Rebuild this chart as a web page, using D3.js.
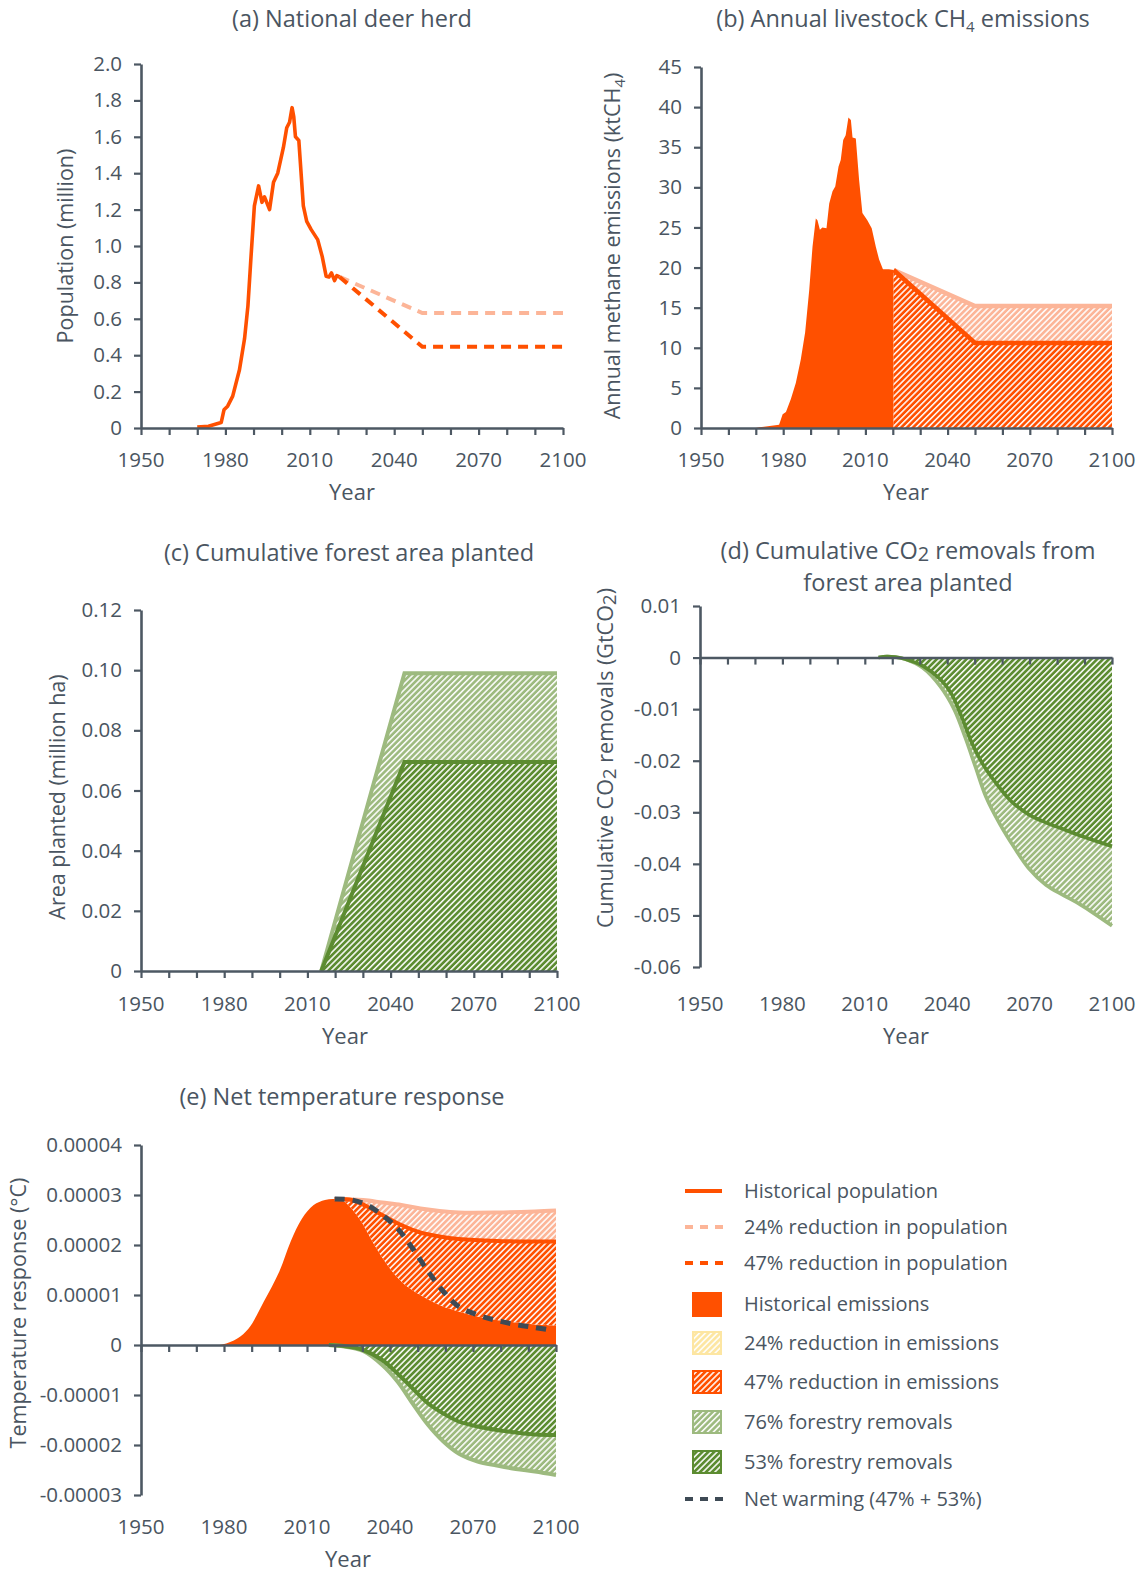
<!DOCTYPE html>
<html><head><meta charset="utf-8">
<script src="https://cdn.jsdelivr.net/npm/d3@7"></script>
<style>
body{margin:0;background:#fff;}
svg text{font-family:"Open Sans","Noto Sans",sans-serif;fill:#4a5561;}
</style></head><body>
<svg id="c" width="1144" height="1573"></svg>
<script>
// ---------------- DATA ----------------
const yearTicks = [1950,1960,1970,1980,1990,2000,2010,2020,2030,2040,2050,2060,2070,2080,2090,2100];
const yearLabels = [1950,1980,2010,2040,2070,2100];

// (a) National deer herd (million)
const deerYears = [1970,1974,1978.5,1979.5,1980.8,1982.6,1985,1986.8,1988,1989.1,1990.3,1991.8,1993,1993.9,1995.7,1997.1,1998.6,2000.6,2001.8,2002.8,2003.7,2004.3,2004.9,2006.1,2006.9,2007.7,2008.9,2010.5,2012.8,2014.4,2015.8,2016.8,2017.7,2018.8,2019.6,2020.6];
const deerPop   = [0.005,0.01,0.03,0.10,0.12,0.175,0.32,0.49,0.67,0.94,1.22,1.33,1.24,1.27,1.20,1.35,1.40,1.54,1.65,1.68,1.76,1.71,1.60,1.58,1.40,1.22,1.135,1.09,1.035,0.943,0.834,0.83,0.852,0.81,0.837,0.83];
const deerScenYears = [2020.6,2050,2100];
const deer24 = [0.83,0.632,0.632];
const deer47 = [0.83,0.446,0.446];
const popTicks = [0,0.2,0.4,0.6,0.8,1.0,1.2,1.4,1.6,1.8,2.0];
const popTickLabels = ["0","0.2","0.4","0.6","0.8","1.0","1.2","1.4","1.6","1.8","2.0"];

// (b) Annual livestock CH4 emissions (ktCH4)
const ch4Years = [1950,1970,1971.3,1978.5,1979.8,1981,1982.8,1984.6,1986.4,1988,1989.5,1990.7,1991.9,1992.5,1993.4,1994.3,1995.8,1996.8,1998,1999,2000.2,2001,2001.9,2002.8,2003.8,2004.7,2005.3,2006.5,2007.7,2008.9,2010.7,2012.3,2013.8,2015,2016.4,2018.6,2020.3];
const ch4Hist  = [0,0,0.1,0.4,1.7,2.0,3.6,5.6,8.5,11.9,17.2,22.6,26.1,25.9,24.7,25.0,24.9,28.0,29.5,30.1,32.6,33.4,35.9,36.5,38.7,38.4,36.2,36.1,30.9,26.8,25.9,24.9,22.6,21.0,19.8,19.8,19.7];
const ch4ScenYears = [2020.3,2050,2100];
const ch4_24 = [19.7,15.2,15.2];
const ch4_47 = [19.7,10.6,10.6];
const ch4Ticks = [0,5,10,15,20,25,30,35,40,45];
const ch4TickLabels = ["0","5","10","15","20","25","30","35","40","45"];

// (c) Cumulative forest area planted (million ha)
const forestYears = [2015,2045,2100];
const forest76 = [0,0.099,0.099];
const forest53 = [0,0.0695,0.0695];
const areaTicks = [0,0.02,0.04,0.06,0.08,0.10,0.12];
const areaTickLabels = ["0","0.02","0.04","0.06","0.08","0.10","0.12"];

// (d) Cumulative CO2 removals (GtCO2)
const co2Years53 = [2015,2018,2021,2024.7,2031.1,2037.5,2041.4,2045.2,2049.1,2052.9,2058,2063.2,2069.6,2076,2082.4,2088.8,2100];
const co2_53     = [0,0.0002,0.0001,-0.0003,-0.0016,-0.0042,-0.0069,-0.0114,-0.0167,-0.0206,-0.0245,-0.0278,-0.0304,-0.032,-0.0333,-0.0346,-0.0366];
const co2Years76 = [2015,2018,2021,2024.7,2031.1,2037.5,2042.6,2046.5,2050.3,2054.2,2059.3,2064.5,2069.6,2076,2082.4,2088.8,2100];
const co2_76     = [0,0.0002,0.0001,-0.0003,-0.002,-0.0056,-0.0101,-0.0154,-0.0212,-0.0271,-0.0324,-0.0369,-0.0408,-0.0441,-0.0461,-0.048,-0.052];
const co2Ticks = [0.01,0,-0.01,-0.02,-0.03,-0.04,-0.05,-0.06];
const co2TickLabels = ["0.01","0","-0.01","-0.02","-0.03","-0.04","-0.05","-0.06"];

// (e) Net temperature response (°C)
const tempHistYears = [1969.6,1979.3,1984.8,1988.9,1994.4,2000,2004.1,2008.2,2012.4,2016.5,2020,2023.4,2028.9,2034.4,2040,2045.5,2051,2057.9,2064.8,2071.7,2078.6,2085.5,2092.4,2100];
const tempHist = [0,0.01e-5,0.13e-5,0.33e-5,0.87e-5,1.47e-5,2.07e-5,2.53e-5,2.8e-5,2.9e-5,2.92e-5,2.87e-5,2.53e-5,2.0e-5,1.53e-5,1.2e-5,1.0e-5,0.8e-5,0.67e-5,0.57e-5,0.5e-5,0.45e-5,0.41e-5,0.39e-5];
const temp47Years = [2020,2026.2,2031.7,2037.2,2044.1,2051,2057.9,2064.8,2078.6,2092.4,2100];
const temp47 = [2.92e-5,2.9e-5,2.77e-5,2.6e-5,2.4e-5,2.25e-5,2.17e-5,2.12e-5,2.08e-5,2.07e-5,2.07e-5];
const temp24Years = [2020,2030.3,2037.2,2044.1,2051,2057.9,2064.8,2078.6,2092.4,2100];
const temp24 = [2.92e-5,2.9e-5,2.85e-5,2.8e-5,2.73e-5,2.68e-5,2.65e-5,2.65e-5,2.67e-5,2.69e-5];
const tempNetYears = [2020,2026.2,2031.7,2037.2,2042.7,2048.2,2053.8,2059.3,2064.8,2071.7,2078.6,2085.5,2092.4,2098];
const tempNet = [2.92e-5,2.9e-5,2.8e-5,2.6e-5,2.33e-5,1.93e-5,1.47e-5,1.07e-5,0.77e-5,0.6e-5,0.49e-5,0.41e-5,0.35e-5,0.3e-5];
const tempForYears = [2017.9,2023.4,2030.3,2037.2,2042.7,2048.2,2053.8,2059.3,2064.8,2071.7,2078.6,2085.5,2092.4,2100];
const tempFor53 = [0,-0.02e-5,-0.1e-5,-0.3e-5,-0.57e-5,-0.87e-5,-1.17e-5,-1.37e-5,-1.53e-5,-1.63e-5,-1.7e-5,-1.75e-5,-1.79e-5,-1.8e-5];
const tempFor76 = [0,-0.03e-5,-0.12e-5,-0.4e-5,-0.73e-5,-1.17e-5,-1.6e-5,-1.93e-5,-2.17e-5,-2.33e-5,-2.41e-5,-2.48e-5,-2.53e-5,-2.6e-5];
const tempTicks = [4e-5,3e-5,2e-5,1e-5,0,-1e-5,-2e-5,-3e-5];
const tempTickLabels = ["0.00004","0.00003","0.00002","0.00001","0","-0.00001","-0.00002","-0.00003"];

const legendLabels = ["Historical population","24% reduction in population","47% reduction in population","Historical emissions","24% reduction in emissions","47% reduction in emissions","76% forestry removals","53% forestry removals","Net warming (47% + 53%)"];

// ---------------- STYLE ----------------
const ORANGE="#ff5000", SALMON="#fcb598", DKGREEN="#5c8c31", LTGREEN="#9dba7f", NET="#3e4a55", AXIS="#4d5863", PALE="#fde6a2";
const TICKFS=20.5, TITLEFS=23.5, YTFS=21.5, YEARFS=22, LEGFS=20;

const svg = d3.select("#c");
const defs = svg.append("defs");
function hatch(id,color){
  const p=defs.append("pattern").attr("id",id).attr("patternUnits","userSpaceOnUse")
    .attr("width",4.2).attr("height",4.2).attr("patternTransform","rotate(45)");
  p.append("rect").attr("width",4.2).attr("height",4.2).attr("fill",color);
  p.append("line").attr("x1",0.8).attr("y1",0).attr("x2",0.8).attr("y2",4.2).attr("stroke","#fff").attr("stroke-width",1.5);
}
hatch("hOr",ORANGE); hatch("hSa",SALMON); hatch("hDg",DKGREEN); hatch("hLg",LTGREEN); hatch("hPa",PALE);

const zip=(xs,ys)=>xs.map((d,i)=>[d,ys[i]]);

function panel(cfg){
  const x=d3.scaleLinear([1950,2100],[cfg.x0,cfg.x1]);
  const y=d3.scaleLinear(cfg.ydom,[cfg.yb,cfg.yt]);
  const g=svg.append("g");
  const marks=g.append("g");
  const axes=g.append("g");
  const xa=axes.append("g").attr("transform",`translate(0,${y(0)})`)
    .call(d3.axisBottom(x).tickValues(yearTicks).tickSize(7).tickSizeOuter(0).tickFormat(""));
  const ya=axes.append("g").attr("transform",`translate(${cfg.x0},0)`)
    .call(d3.axisLeft(y).tickValues(cfg.yTicks).tickFormat((d,i)=>cfg.yLabels[i]).tickSize(7).tickSizeOuter(0).tickPadding(12));
  [xa,ya].forEach(a=>{a.attr("color",AXIS).attr("font-size",TICKFS);
    a.select(".domain").attr("stroke-width",2.6);
    a.selectAll(".tick line").attr("stroke-width",2.2);});
  axes.selectAll(".xl").data(yearLabels).join("text").attr("x",d=>x(d)).attr("y",cfg.xLabelY)
    .attr("text-anchor","middle").attr("font-size",TICKFS).text(d=>d);
  axes.append("text").attr("x",cfg.yearX).attr("y",cfg.xLabelY+33).attr("text-anchor","middle").attr("font-size",YEARFS).text("Year");
  return {x,y,marks};
}
function linePath(x,y,pts,curve){return d3.line().x(d=>x(d[0])).y(d=>y(d[1])).curve(curve||d3.curveLinear)(pts);}
function band(x,y,upper,lower,curve){
  const a=linePath(x,y,upper,curve);
  const b=linePath(x,y,lower.slice().reverse(),curve);
  return a+"L"+b.slice(1)+"Z";
}
function areaTo0(x,y,pts,curve){return d3.area().x(d=>x(d[0])).y0(y(0)).y1(d=>y(d[1])).curve(curve||d3.curveLinear)(pts);}

function richText(t,parts){
  let pend=0;
  parts.forEach(p=>{
    if(typeof p==="string"){ const s=t.append("tspan").text(p); if(pend){s.attr("dy",pend);pend=0;} }
    else { t.append("tspan").attr("font-size",p.fs).attr("dy",p.dy).text(p.t); pend=-p.dy; }
  });
}
function title(x,yb,parts){
  const t=svg.append("text").attr("x",x).attr("y",yb).attr("text-anchor","middle").attr("font-size",TITLEFS);
  richText(t,parts);
}
function ytitle(cx,cy,parts){
  const t=svg.append("text").attr("transform",`translate(${cx},${cy}) rotate(-90)`).attr("text-anchor","middle").attr("font-size",YTFS);
  richText(t,parts);
}
const smooth=d3.curveCatmullRom.alpha(0.5);

// ---------- (a) ----------
{
  const P=panel({x0:141,x1:563,ydom:[0,2.0],yb:428,yt:64,yTicks:popTicks,yLabels:popTickLabels,xLabelY:467,yearX:352});
  P.marks.append("path").attr("d",linePath(P.x,P.y,zip(deerScenYears,deer24))).attr("fill","none")
    .attr("stroke",SALMON).attr("stroke-width",4).attr("stroke-dasharray","10,7");
  P.marks.append("path").attr("d",linePath(P.x,P.y,zip(deerScenYears,deer47))).attr("fill","none")
    .attr("stroke",ORANGE).attr("stroke-width",4).attr("stroke-dasharray","10,7");
  P.marks.append("path").attr("d",linePath(P.x,P.y,zip(deerYears,deerPop))).attr("fill","none")
    .attr("stroke",ORANGE).attr("stroke-width",3.6).attr("stroke-linejoin","round");
  title(352,27,["(a) National deer herd"]);
  ytitle(73,246,["Population (million)"]);
}
// ---------- (b) ----------
{
  const P=panel({x0:701,x1:1112,ydom:[0,45],yb:428,yt:67,yTicks:ch4Ticks,yLabels:ch4TickLabels,xLabelY:467,yearX:906});
  P.marks.append("path").attr("d",areaTo0(P.x,P.y,zip(ch4Years,ch4Hist))).attr("fill",ORANGE);
  P.marks.append("path").attr("d",band(P.x,P.y,zip(ch4ScenYears,ch4_24),zip(ch4ScenYears,ch4_47))).attr("fill","url(#hSa)");
  P.marks.append("path").attr("d",areaTo0(P.x,P.y,zip(ch4ScenYears,ch4_47))).attr("fill","url(#hOr)");
  P.marks.append("path").attr("d",linePath(P.x,P.y,zip(ch4ScenYears,ch4_24))).attr("fill","none").attr("stroke",SALMON).attr("stroke-width",4.5);
  P.marks.append("path").attr("d",linePath(P.x,P.y,zip(ch4ScenYears,ch4_47))).attr("fill","none").attr("stroke",ORANGE).attr("stroke-width",4.5);
  title(903,27,["(b) Annual livestock CH",{t:"4",fs:15,dy:5}," emissions"]);
  ytitle(620,246,["Annual methane emissions (ktCH",{t:"4",fs:15,dy:5},")"]);
}
// ---------- (c) ----------
{
  const P=panel({x0:141,x1:557,ydom:[0,0.12],yb:971,yt:610,yTicks:areaTicks,yLabels:areaTickLabels,xLabelY:1011,yearX:345});
  P.marks.append("path").attr("d",band(P.x,P.y,zip(forestYears,forest76),zip(forestYears,forest53))).attr("fill","url(#hLg)");
  P.marks.append("path").attr("d",areaTo0(P.x,P.y,zip(forestYears,forest53))).attr("fill","url(#hDg)");
  P.marks.append("path").attr("d",linePath(P.x,P.y,zip(forestYears,forest76))).attr("fill","none").attr("stroke",LTGREEN).attr("stroke-width",4);
  P.marks.append("path").attr("d",linePath(P.x,P.y,zip(forestYears,forest53))).attr("fill","none").attr("stroke",DKGREEN).attr("stroke-width",4);
  title(349,561,["(c) Cumulative forest area planted"]);
  ytitle(65,797,["Area planted (million ha)"]);
}
// ---------- (d) ----------
{
  const P=panel({x0:700,x1:1112,ydom:[-0.06,0.01],yb:967,yt:606,yTicks:co2Ticks,yLabels:co2TickLabels,xLabelY:1011,yearX:906});
  P.marks.append("path").attr("d",band(P.x,P.y,zip(co2Years53,co2_53),zip(co2Years76,co2_76),smooth)).attr("fill","url(#hLg)");
  P.marks.append("path").attr("d",areaTo0(P.x,P.y,zip(co2Years53,co2_53),smooth)).attr("fill","url(#hDg)");
  P.marks.append("path").attr("d",linePath(P.x,P.y,zip(co2Years76,co2_76),smooth)).attr("fill","none").attr("stroke",LTGREEN).attr("stroke-width",3.6);
  P.marks.append("path").attr("d",linePath(P.x,P.y,zip(co2Years53,co2_53),smooth)).attr("fill","none").attr("stroke",DKGREEN).attr("stroke-width",3.6);
  title(908,559,["(d) Cumulative CO",{t:"2",fs:20,dy:2}," removals from"]);
  title(908,591,["forest area planted"]);
  ytitle(613,758,["Cumulative CO",{t:"2",fs:19,dy:3}," removals (GtCO",{t:"2",fs:19,dy:3},")"]);
}
// ---------- (e) ----------
{
  const P=panel({x0:141,x1:556,ydom:[-3e-5,4e-5],yb:1495,yt:1145,yTicks:tempTicks,yLabels:tempTickLabels,xLabelY:1534,yearX:348});
  const hist=zip(tempHistYears,tempHist), s47=zip(temp47Years,temp47), s24=zip(temp24Years,temp24);
  const f53=zip(tempForYears,tempFor53), f76=zip(tempForYears,tempFor76);
  P.marks.append("path").attr("d",areaTo0(P.x,P.y,hist,smooth)).attr("fill",ORANGE);
  P.marks.append("path").attr("d",band(P.x,P.y,s24,s47,smooth)).attr("fill","url(#hSa)");
  P.marks.append("path").attr("d",band(P.x,P.y,s47,hist.filter(d=>d[0]>=2020),smooth)).attr("fill","url(#hOr)");
  P.marks.append("path").attr("d",band(P.x,P.y,f53,f76,smooth)).attr("fill","url(#hLg)");
  P.marks.append("path").attr("d",areaTo0(P.x,P.y,f53,smooth)).attr("fill","url(#hDg)");
  P.marks.append("path").attr("d",linePath(P.x,P.y,s24,smooth)).attr("fill","none").attr("stroke",SALMON).attr("stroke-width",4);
  P.marks.append("path").attr("d",linePath(P.x,P.y,s47,smooth)).attr("fill","none").attr("stroke",ORANGE).attr("stroke-width",4);
  P.marks.append("path").attr("d",linePath(P.x,P.y,f76,smooth)).attr("fill","none").attr("stroke",LTGREEN).attr("stroke-width",4);
  P.marks.append("path").attr("d",linePath(P.x,P.y,f53,smooth)).attr("fill","none").attr("stroke",DKGREEN).attr("stroke-width",4);
  P.marks.append("path").attr("d",linePath(P.x,P.y,zip(tempNetYears,tempNet),smooth)).attr("fill","none").attr("stroke",NET).attr("stroke-width",5).attr("stroke-dasharray","10,8");
  title(342,1105,["(e) Net temperature response"]);
  ytitle(26,1313,["Temperature response (°C)"]);
}
// ---------- Legend ----------
{
  const ys=[1191,1227,1263,1304,1343,1382,1422,1462,1499];
  const L=svg.append("g");
  const glyph=[
    {t:"line",c:ORANGE},{t:"dash",c:SALMON},{t:"dash",c:ORANGE},{t:"solid",c:ORANGE},
    {t:"hatch",c:PALE,p:"hPa"},{t:"hatch",c:ORANGE,p:"hOr"},{t:"hatch",c:LTGREEN,p:"hLg"},{t:"hatch",c:DKGREEN,p:"hDg"},{t:"dash",c:NET}];
  legendLabels.forEach((lab,i)=>{
    const y=ys[i], gl=glyph[i];
    if(gl.t==="line") L.append("line").attr("x1",685).attr("x2",722).attr("y1",y).attr("y2",y).attr("stroke",gl.c).attr("stroke-width",4);
    else if(gl.t==="dash") L.append("line").attr("x1",685).attr("x2",724).attr("y1",y).attr("y2",y).attr("stroke",gl.c).attr("stroke-width",4).attr("stroke-dasharray","8,7");
    else if(gl.t==="solid") L.append("rect").attr("x",692).attr("y",y-12).attr("width",30).attr("height",25).attr("fill",gl.c);
    else L.append("rect").attr("x",693).attr("y",y-11).attr("width",28).attr("height",22).attr("fill",`url(#${gl.p})`).attr("stroke",gl.c).attr("stroke-width",2);
    L.append("text").attr("x",744).attr("y",y).attr("dy","0.35em").attr("font-size",LEGFS).text(lab);
  });
}
</script>
</body></html>
